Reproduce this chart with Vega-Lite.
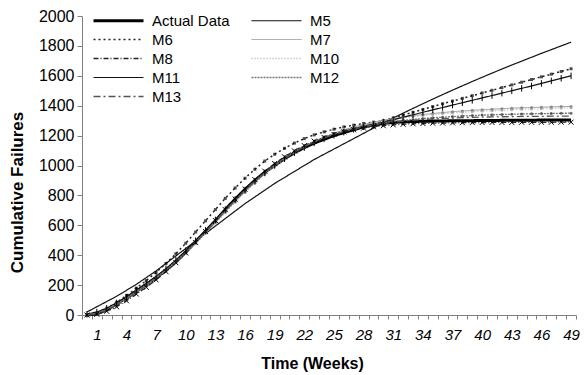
{
"$schema":"https://vega.github.io/schema/vega-lite/v6.json",
"autosize":{"type":"none"},
"padding":{"left":82,"top":16,"right":9,"bottom":60},
"width":494,"height":299,
"background":"white",
"datasets":{"d":[
{"s":"Actual Data","w":0,"v":0},{"s":"Actual Data","w":1,"v":8},{"s":"Actual Data","w":2,"v":35},{"s":"Actual Data","w":3,"v":75},{"s":"Actual Data","w":4,"v":115},{"s":"Actual Data","w":5,"v":160},{"s":"Actual Data","w":6,"v":205},{"s":"Actual Data","w":7,"v":250},{"s":"Actual Data","w":8,"v":300},{"s":"Actual Data","w":9,"v":355},{"s":"Actual Data","w":10,"v":420},{"s":"Actual Data","w":11,"v":490},{"s":"Actual Data","w":12,"v":560},{"s":"Actual Data","w":13,"v":630},{"s":"Actual Data","w":14,"v":705},{"s":"Actual Data","w":15,"v":775},{"s":"Actual Data","w":16,"v":840},{"s":"Actual Data","w":17,"v":900},{"s":"Actual Data","w":18,"v":955},{"s":"Actual Data","w":19,"v":1000},{"s":"Actual Data","w":20,"v":1045},{"s":"Actual Data","w":21,"v":1085},{"s":"Actual Data","w":22,"v":1120},{"s":"Actual Data","w":23,"v":1150},{"s":"Actual Data","w":24,"v":1175},{"s":"Actual Data","w":25,"v":1200},{"s":"Actual Data","w":26,"v":1220},{"s":"Actual Data","w":27,"v":1240},{"s":"Actual Data","w":28,"v":1258},{"s":"Actual Data","w":29,"v":1272},{"s":"Actual Data","w":30,"v":1282},{"s":"Actual Data","w":31,"v":1288},{"s":"Actual Data","w":32,"v":1292},{"s":"Actual Data","w":33,"v":1294},{"s":"Actual Data","w":34,"v":1296},{"s":"Actual Data","w":35,"v":1297},{"s":"Actual Data","w":36,"v":1298},{"s":"Actual Data","w":37,"v":1299},{"s":"Actual Data","w":38,"v":1300},{"s":"Actual Data","w":39,"v":1300},{"s":"Actual Data","w":40,"v":1301},{"s":"Actual Data","w":41,"v":1301},{"s":"Actual Data","w":42,"v":1302},{"s":"Actual Data","w":43,"v":1302},{"s":"Actual Data","w":44,"v":1303},{"s":"Actual Data","w":45,"v":1303},{"s":"Actual Data","w":46,"v":1304},{"s":"Actual Data","w":47,"v":1304},{"s":"Actual Data","w":48,"v":1305},{"s":"Actual Data","w":49,"v":1305},
{"s":"M5","w":0,"v":20},{"s":"M5","w":1,"v":55},{"s":"M5","w":2,"v":90},{"s":"M5","w":3,"v":125},{"s":"M5","w":4,"v":165},{"s":"M5","w":5,"v":205},{"s":"M5","w":6,"v":250},{"s":"M5","w":7,"v":295},{"s":"M5","w":8,"v":345},{"s":"M5","w":9,"v":395},{"s":"M5","w":10,"v":445},{"s":"M5","w":11,"v":495},{"s":"M5","w":12,"v":545},{"s":"M5","w":13,"v":595},{"s":"M5","w":14,"v":645},{"s":"M5","w":15,"v":695},{"s":"M5","w":16,"v":745},{"s":"M5","w":17,"v":790},{"s":"M5","w":18,"v":835},{"s":"M5","w":19,"v":880},{"s":"M5","w":20,"v":920},{"s":"M5","w":21,"v":960},{"s":"M5","w":22,"v":1000},{"s":"M5","w":23,"v":1040},{"s":"M5","w":24,"v":1075},{"s":"M5","w":25,"v":1110},{"s":"M5","w":26,"v":1145},{"s":"M5","w":27,"v":1180},{"s":"M5","w":28,"v":1215},{"s":"M5","w":29,"v":1250},{"s":"M5","w":30,"v":1285},{"s":"M5","w":31,"v":1318},{"s":"M5","w":32,"v":1350},{"s":"M5","w":33,"v":1382},{"s":"M5","w":34,"v":1413},{"s":"M5","w":35,"v":1444},{"s":"M5","w":36,"v":1474},{"s":"M5","w":37,"v":1504},{"s":"M5","w":38,"v":1533},{"s":"M5","w":39,"v":1562},{"s":"M5","w":40,"v":1590},{"s":"M5","w":41,"v":1618},{"s":"M5","w":42,"v":1645},{"s":"M5","w":43,"v":1672},{"s":"M5","w":44,"v":1698},{"s":"M5","w":45,"v":1724},{"s":"M5","w":46,"v":1750},{"s":"M5","w":47,"v":1775},{"s":"M5","w":48,"v":1800},{"s":"M5","w":49,"v":1825},
{"s":"M6","w":0,"v":0},{"s":"M6","w":1,"v":15},{"s":"M6","w":2,"v":45},{"s":"M6","w":3,"v":85},{"s":"M6","w":4,"v":130},{"s":"M6","w":5,"v":180},{"s":"M6","w":6,"v":230},{"s":"M6","w":7,"v":285},{"s":"M6","w":8,"v":345},{"s":"M6","w":9,"v":410},{"s":"M6","w":10,"v":480},{"s":"M6","w":11,"v":555},{"s":"M6","w":12,"v":630},{"s":"M6","w":13,"v":705},{"s":"M6","w":14,"v":780},{"s":"M6","w":15,"v":850},{"s":"M6","w":16,"v":915},{"s":"M6","w":17,"v":975},{"s":"M6","w":18,"v":1030},{"s":"M6","w":19,"v":1075},{"s":"M6","w":20,"v":1115},{"s":"M6","w":21,"v":1150},{"s":"M6","w":22,"v":1180},{"s":"M6","w":23,"v":1205},{"s":"M6","w":24,"v":1225},{"s":"M6","w":25,"v":1243},{"s":"M6","w":26,"v":1258},{"s":"M6","w":27,"v":1270},{"s":"M6","w":28,"v":1281},{"s":"M6","w":29,"v":1290},{"s":"M6","w":30,"v":1299},{"s":"M6","w":31,"v":1318},{"s":"M6","w":32,"v":1337},{"s":"M6","w":33,"v":1356},{"s":"M6","w":34,"v":1375},{"s":"M6","w":35,"v":1394},{"s":"M6","w":36,"v":1413},{"s":"M6","w":37,"v":1431},{"s":"M6","w":38,"v":1449},{"s":"M6","w":39,"v":1467},{"s":"M6","w":40,"v":1485},{"s":"M6","w":41,"v":1503},{"s":"M6","w":42,"v":1521},{"s":"M6","w":43,"v":1539},{"s":"M6","w":44,"v":1557},{"s":"M6","w":45,"v":1575},{"s":"M6","w":46,"v":1593},{"s":"M6","w":47,"v":1611},{"s":"M6","w":48,"v":1629},{"s":"M6","w":49,"v":1647},
{"s":"M7","w":0,"v":3},{"s":"M7","w":1,"v":15},{"s":"M7","w":2,"v":40},{"s":"M7","w":3,"v":75},{"s":"M7","w":4,"v":115},{"s":"M7","w":5,"v":158},{"s":"M7","w":6,"v":203},{"s":"M7","w":7,"v":250},{"s":"M7","w":8,"v":300},{"s":"M7","w":9,"v":355},{"s":"M7","w":10,"v":415},{"s":"M7","w":11,"v":480},{"s":"M7","w":12,"v":548},{"s":"M7","w":13,"v":618},{"s":"M7","w":14,"v":688},{"s":"M7","w":15,"v":757},{"s":"M7","w":16,"v":823},{"s":"M7","w":17,"v":885},{"s":"M7","w":18,"v":943},{"s":"M7","w":19,"v":996},{"s":"M7","w":20,"v":1044},{"s":"M7","w":21,"v":1087},{"s":"M7","w":22,"v":1125},{"s":"M7","w":23,"v":1159},{"s":"M7","w":24,"v":1189},{"s":"M7","w":25,"v":1215},{"s":"M7","w":26,"v":1238},{"s":"M7","w":27,"v":1258},{"s":"M7","w":28,"v":1275},{"s":"M7","w":29,"v":1290},{"s":"M7","w":30,"v":1303},{"s":"M7","w":31,"v":1314},{"s":"M7","w":32,"v":1324},{"s":"M7","w":33,"v":1333},{"s":"M7","w":34,"v":1341},{"s":"M7","w":35,"v":1348},{"s":"M7","w":36,"v":1354},{"s":"M7","w":37,"v":1360},{"s":"M7","w":38,"v":1365},{"s":"M7","w":39,"v":1369},{"s":"M7","w":40,"v":1373},{"s":"M7","w":41,"v":1377},{"s":"M7","w":42,"v":1380},{"s":"M7","w":43,"v":1383},{"s":"M7","w":44,"v":1386},{"s":"M7","w":45,"v":1388},{"s":"M7","w":46,"v":1390},{"s":"M7","w":47,"v":1392},{"s":"M7","w":48,"v":1394},{"s":"M7","w":49,"v":1395},
{"s":"M8","w":0,"v":0},{"s":"M8","w":1,"v":5},{"s":"M8","w":2,"v":25},{"s":"M8","w":3,"v":55},{"s":"M8","w":4,"v":95},{"s":"M8","w":5,"v":140},{"s":"M8","w":6,"v":185},{"s":"M8","w":7,"v":235},{"s":"M8","w":8,"v":290},{"s":"M8","w":9,"v":350},{"s":"M8","w":10,"v":415},{"s":"M8","w":11,"v":485},{"s":"M8","w":12,"v":558},{"s":"M8","w":13,"v":632},{"s":"M8","w":14,"v":705},{"s":"M8","w":15,"v":775},{"s":"M8","w":16,"v":842},{"s":"M8","w":17,"v":905},{"s":"M8","w":18,"v":962},{"s":"M8","w":19,"v":1013},{"s":"M8","w":20,"v":1058},{"s":"M8","w":21,"v":1098},{"s":"M8","w":22,"v":1133},{"s":"M8","w":23,"v":1163},{"s":"M8","w":24,"v":1188},{"s":"M8","w":25,"v":1208},{"s":"M8","w":26,"v":1225},{"s":"M8","w":27,"v":1239},{"s":"M8","w":28,"v":1250},{"s":"M8","w":29,"v":1259},{"s":"M8","w":30,"v":1266},{"s":"M8","w":31,"v":1272},{"s":"M8","w":32,"v":1276},{"s":"M8","w":33,"v":1279},{"s":"M8","w":34,"v":1281},{"s":"M8","w":35,"v":1283},{"s":"M8","w":36,"v":1284},{"s":"M8","w":37,"v":1285},{"s":"M8","w":38,"v":1286},{"s":"M8","w":39,"v":1287},{"s":"M8","w":40,"v":1287},{"s":"M8","w":41,"v":1288},{"s":"M8","w":42,"v":1288},{"s":"M8","w":43,"v":1288},{"s":"M8","w":44,"v":1289},{"s":"M8","w":45,"v":1289},{"s":"M8","w":46,"v":1289},{"s":"M8","w":47,"v":1289},{"s":"M8","w":48,"v":1290},{"s":"M8","w":49,"v":1290},
{"s":"M10","w":0,"v":0},{"s":"M10","w":1,"v":10},{"s":"M10","w":2,"v":35},{"s":"M10","w":3,"v":70},{"s":"M10","w":4,"v":110},{"s":"M10","w":5,"v":153},{"s":"M10","w":6,"v":198},{"s":"M10","w":7,"v":246},{"s":"M10","w":8,"v":297},{"s":"M10","w":9,"v":352},{"s":"M10","w":10,"v":412},{"s":"M10","w":11,"v":477},{"s":"M10","w":12,"v":545},{"s":"M10","w":13,"v":615},{"s":"M10","w":14,"v":685},{"s":"M10","w":15,"v":754},{"s":"M10","w":16,"v":820},{"s":"M10","w":17,"v":882},{"s":"M10","w":18,"v":940},{"s":"M10","w":19,"v":993},{"s":"M10","w":20,"v":1041},{"s":"M10","w":21,"v":1084},{"s":"M10","w":22,"v":1122},{"s":"M10","w":23,"v":1156},{"s":"M10","w":24,"v":1186},{"s":"M10","w":25,"v":1212},{"s":"M10","w":26,"v":1235},{"s":"M10","w":27,"v":1255},{"s":"M10","w":28,"v":1272},{"s":"M10","w":29,"v":1287},{"s":"M10","w":30,"v":1300},{"s":"M10","w":31,"v":1311},{"s":"M10","w":32,"v":1320},{"s":"M10","w":33,"v":1328},{"s":"M10","w":34,"v":1335},{"s":"M10","w":35,"v":1341},{"s":"M10","w":36,"v":1347},{"s":"M10","w":37,"v":1352},{"s":"M10","w":38,"v":1356},{"s":"M10","w":39,"v":1360},{"s":"M10","w":40,"v":1364},{"s":"M10","w":41,"v":1367},{"s":"M10","w":42,"v":1370},{"s":"M10","w":43,"v":1373},{"s":"M10","w":44,"v":1376},{"s":"M10","w":45,"v":1378},{"s":"M10","w":46,"v":1380},{"s":"M10","w":47,"v":1382},{"s":"M10","w":48,"v":1384},{"s":"M10","w":49,"v":1386},
{"s":"M11","w":0,"v":5},{"s":"M11","w":1,"v":20},{"s":"M11","w":2,"v":45},{"s":"M11","w":3,"v":80},{"s":"M11","w":4,"v":120},{"s":"M11","w":5,"v":165},{"s":"M11","w":6,"v":210},{"s":"M11","w":7,"v":258},{"s":"M11","w":8,"v":310},{"s":"M11","w":9,"v":368},{"s":"M11","w":10,"v":430},{"s":"M11","w":11,"v":497},{"s":"M11","w":12,"v":566},{"s":"M11","w":13,"v":636},{"s":"M11","w":14,"v":705},{"s":"M11","w":15,"v":772},{"s":"M11","w":16,"v":836},{"s":"M11","w":17,"v":895},{"s":"M11","w":18,"v":950},{"s":"M11","w":19,"v":1000},{"s":"M11","w":20,"v":1045},{"s":"M11","w":21,"v":1085},{"s":"M11","w":22,"v":1120},{"s":"M11","w":23,"v":1151},{"s":"M11","w":24,"v":1178},{"s":"M11","w":25,"v":1202},{"s":"M11","w":26,"v":1223},{"s":"M11","w":27,"v":1242},{"s":"M11","w":28,"v":1259},{"s":"M11","w":29,"v":1275},{"s":"M11","w":30,"v":1290},{"s":"M11","w":31,"v":1306},{"s":"M11","w":32,"v":1323},{"s":"M11","w":33,"v":1339},{"s":"M11","w":34,"v":1356},{"s":"M11","w":35,"v":1372},{"s":"M11","w":36,"v":1388},{"s":"M11","w":37,"v":1404},{"s":"M11","w":38,"v":1420},{"s":"M11","w":39,"v":1436},{"s":"M11","w":40,"v":1452},{"s":"M11","w":41,"v":1468},{"s":"M11","w":42,"v":1484},{"s":"M11","w":43,"v":1500},{"s":"M11","w":44,"v":1516},{"s":"M11","w":45,"v":1532},{"s":"M11","w":46,"v":1549},{"s":"M11","w":47,"v":1566},{"s":"M11","w":48,"v":1583},{"s":"M11","w":49,"v":1600},
{"s":"M12","w":0,"v":2},{"s":"M12","w":1,"v":12},{"s":"M12","w":2,"v":38},{"s":"M12","w":3,"v":73},{"s":"M12","w":4,"v":113},{"s":"M12","w":5,"v":157},{"s":"M12","w":6,"v":202},{"s":"M12","w":7,"v":250},{"s":"M12","w":8,"v":302},{"s":"M12","w":9,"v":358},{"s":"M12","w":10,"v":420},{"s":"M12","w":11,"v":486},{"s":"M12","w":12,"v":555},{"s":"M12","w":13,"v":626},{"s":"M12","w":14,"v":697},{"s":"M12","w":15,"v":766},{"s":"M12","w":16,"v":832},{"s":"M12","w":17,"v":894},{"s":"M12","w":18,"v":951},{"s":"M12","w":19,"v":1003},{"s":"M12","w":20,"v":1050},{"s":"M12","w":21,"v":1092},{"s":"M12","w":22,"v":1129},{"s":"M12","w":23,"v":1161},{"s":"M12","w":24,"v":1189},{"s":"M12","w":25,"v":1213},{"s":"M12","w":26,"v":1233},{"s":"M12","w":27,"v":1250},{"s":"M12","w":28,"v":1264},{"s":"M12","w":29,"v":1276},{"s":"M12","w":30,"v":1286},{"s":"M12","w":31,"v":1295},{"s":"M12","w":32,"v":1302},{"s":"M12","w":33,"v":1308},{"s":"M12","w":34,"v":1314},{"s":"M12","w":35,"v":1319},{"s":"M12","w":36,"v":1323},{"s":"M12","w":37,"v":1327},{"s":"M12","w":38,"v":1331},{"s":"M12","w":39,"v":1334},{"s":"M12","w":40,"v":1337},{"s":"M12","w":41,"v":1339},{"s":"M12","w":42,"v":1341},{"s":"M12","w":43,"v":1343},{"s":"M12","w":44,"v":1345},{"s":"M12","w":45,"v":1346},{"s":"M12","w":46,"v":1347},{"s":"M12","w":47,"v":1348},{"s":"M12","w":48,"v":1349},{"s":"M12","w":49,"v":1350},
{"s":"M13","w":0,"v":0},{"s":"M13","w":1,"v":8},{"s":"M13","w":2,"v":30},{"s":"M13","w":3,"v":65},{"s":"M13","w":4,"v":105},{"s":"M13","w":5,"v":150},{"s":"M13","w":6,"v":196},{"s":"M13","w":7,"v":245},{"s":"M13","w":8,"v":298},{"s":"M13","w":9,"v":355},{"s":"M13","w":10,"v":418},{"s":"M13","w":11,"v":485},{"s":"M13","w":12,"v":555},{"s":"M13","w":13,"v":627},{"s":"M13","w":14,"v":698},{"s":"M13","w":15,"v":768},{"s":"M13","w":16,"v":834},{"s":"M13","w":17,"v":896},{"s":"M13","w":18,"v":952},{"s":"M13","w":19,"v":1003},{"s":"M13","w":20,"v":1049},{"s":"M13","w":21,"v":1090},{"s":"M13","w":22,"v":1126},{"s":"M13","w":23,"v":1157},{"s":"M13","w":24,"v":1184},{"s":"M13","w":25,"v":1207},{"s":"M13","w":26,"v":1227},{"s":"M13","w":27,"v":1244},{"s":"M13","w":28,"v":1258},{"s":"M13","w":29,"v":1270},{"s":"M13","w":30,"v":1280},{"s":"M13","w":31,"v":1289},{"s":"M13","w":32,"v":1296},{"s":"M13","w":33,"v":1302},{"s":"M13","w":34,"v":1307},{"s":"M13","w":35,"v":1311},{"s":"M13","w":36,"v":1314},{"s":"M13","w":37,"v":1317},{"s":"M13","w":38,"v":1320},{"s":"M13","w":39,"v":1322},{"s":"M13","w":40,"v":1324},{"s":"M13","w":41,"v":1325},{"s":"M13","w":42,"v":1326},{"s":"M13","w":43,"v":1327},{"s":"M13","w":44,"v":1328},{"s":"M13","w":45,"v":1329},{"s":"M13","w":46,"v":1329},{"s":"M13","w":47,"v":1330},{"s":"M13","w":48,"v":1330},{"s":"M13","w":49,"v":1330}
]},
"data":{"name":"d"},
"encoding":{
"x":{"field":"w","type":"quantitative","scale":{"domain":[-0.5,49.5],"nice":false,"zero":false},
"axis":{"values":[-0.5,0.5,1.5,2.5,3.5,4.5,5.5,6.5,7.5,8.5,9.5,10.5,11.5,12.5,13.5,14.5,15.5,16.5,17.5,18.5,19.5,20.5,21.5,22.5,23.5,24.5,25.5,26.5,27.5,28.5,29.5,30.5,31.5,32.5,33.5,34.5,35.5,36.5,37.5,38.5,39.5,40.5,41.5,42.5,43.5,44.5,45.5,46.5,47.5,48.5,49.5],
"tickSize":4,"labelExpr":"(datum.value+0.5-1)%3==0 ? ''+(datum.value+0.5) : ''","labelOffset":4.94,"labelPadding":8,"labelFontSize":15,"labelFontStyle":"italic","labelOverlap":false,"labelFlush":false,"labelBound":false,
"title":"Time (Weeks)","titleFontSize":16,"titleFontWeight":"bold","titleX":230,"titleY":40}},
"y":{"field":"v","type":"quantitative","scale":{"domain":[0,2000],"nice":false},
"axis":{"values":[0,200,400,600,800,1000,1200,1400,1600,1800,2000],"format":"d","tickSize":5,"labelPadding":3,"labelFontSize":16,
"title":"Cumulative Failures","titleFontSize":17,"titleFontWeight":"bold","titleX":-56,"titleY":176}}
},
"layer":[
{"mark":{"type":"line","strokeCap":"butt"},
"encoding":{
"detail":{"field":"s"},
"color":{"field":"s","type":"nominal","title":null,"legend":{"symbolType":"M-5,0L5,0","symbolSize":100,"direction":"horizontal","columns":2},"scale":{"domain":["Actual Data","M5","M6","M7","M8","M10","M11","M12","M13"],"range":["#000000","#111111","#222222","#999999","#222222","#b0b0b0","#111111","#777777","#555555"]}},
"strokeDash":{"field":"s","type":"nominal","title":null,"legend":{"symbolType":"M-5,0L5,0","symbolSize":100,"direction":"horizontal","columns":2},"scale":{"domain":["Actual Data","M5","M6","M7","M8","M10","M11","M12","M13"],"range":[[1,0],[1,0],[2,3],[1,0],[5,2,1,2],[1,2],[1,0],[2,1],[7,3,2,3]]}},
"strokeWidth":{"field":"s","type":"nominal","title":null,"legend":{"symbolType":"M-5,0L5,0","symbolSize":100,"direction":"horizontal","columns":2},"scale":{"type":"ordinal","domain":["Actual Data","M5","M6","M7","M8","M10","M11","M12","M13"],"range":[3,1.2,1.5,1,1.3,1.3,1.2,1.3,1.3]}}
}},
{"transform":[{"filter":{"field":"s","oneOf":["M6","M7","M10","M12"]}}],
"mark":{"type":"point","filled":true,"size":9,"strokeWidth":0},
"encoding":{
"shape":{"field":"s","type":"nominal","legend":null,"scale":{"domain":["M6","M7","M8","M10","M11","M12"],"range":["square","circle","M-1,-1L1,1M-1,1L1,-1","circle","M0,-1.3L0,1.3","circle"]}},
"fill":{"field":"s","type":"nominal","legend":null,"scale":{"domain":["M6","M7","M10","M12"],"range":["#000000","#666666","#999999","#333333"]}}
}},
{"transform":[{"filter":{"field":"s","oneOf":["M8","M11"]}}],
"mark":{"type":"point","filled":false,"size":25,"strokeWidth":1,"color":"#000000","opacity":1},
"encoding":{
"shape":{"field":"s","type":"nominal","legend":null,"scale":{"domain":["M6","M7","M8","M10","M11","M12"],"range":["square","circle","M-1,-1L1,1M-1,1L1,-1","circle","M0,-1.3L0,1.3","circle"]}}
}}
],
"config":{
"font":"Liberation Sans",
"view":{"stroke":null},
"axis":{"domainColor":"#808080","tickColor":"#808080","labelColor":"#000000","titleColor":"#000000","grid":false,"labelFont":"Liberation Sans","titleFont":"Liberation Sans"},
"legend":{"orient":"none","legendX":29,"legendY":-3,"columns":2,"direction":"horizontal","columnPadding":18,"rowPadding":3,"padding":0,"labelFontSize":15,"labelFont":"Liberation Sans","labelColor":"#000000","labelOffset":26,"titlePadding":0}
}
}
